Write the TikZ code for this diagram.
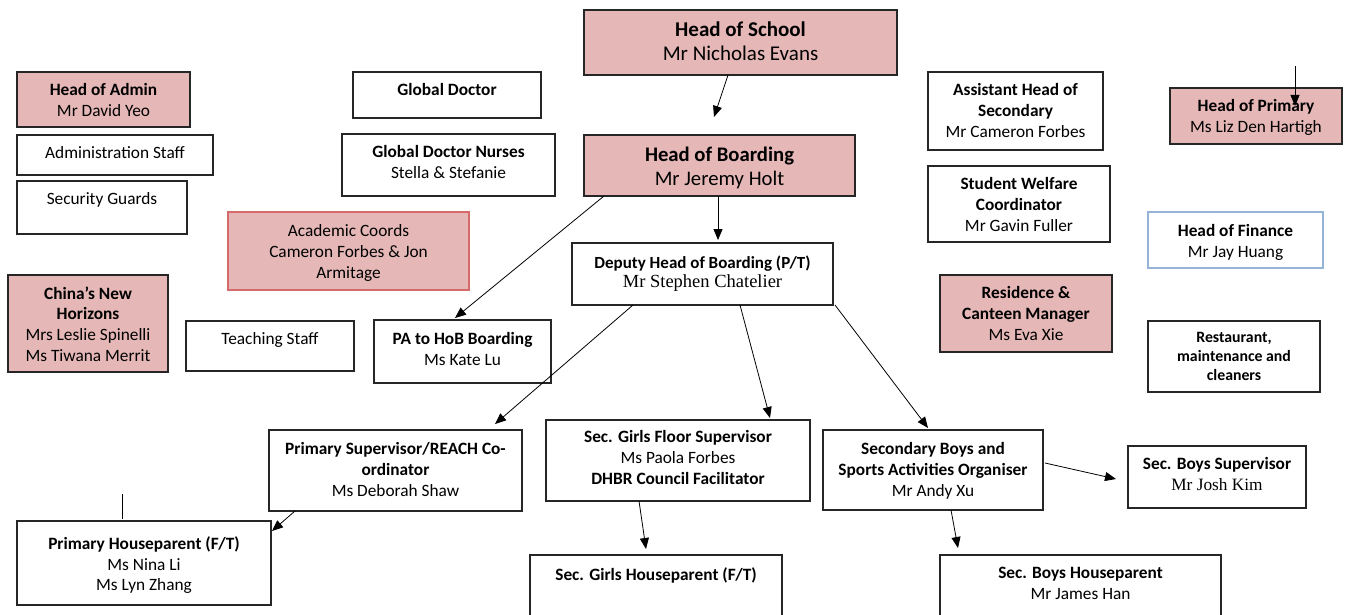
\documentclass[tikz,border=0pt]{standalone}
\usepackage{fontspec}
\setmainfont{Carlito}
\newfontfamily\tmsfont{Liberation Serif}
\usetikzlibrary{arrows.meta}
\definecolor{pinkfill}{HTML}{E5B8B7}
\definecolor{redline}{HTML}{D46A6A}
\definecolor{blueline}{HTML}{95B3D7}
\definecolor{boxline}{HTML}{262626}
\newcommand\bt[4]{\parbox[c][#2pt][t]{#1pt}{\centering\vspace*{#3pt}#4\par}}
\tikzset{
  bx/.style={draw=boxline, line width=1.1pt, inner sep=0pt, outer sep=0pt, anchor=north west,
    font=\fontsize{17.3}{20.8}\selectfont},
  pk/.style={bx, fill=pinkfill},
  arr/.style={line width=0.8pt, -{Triangle[length=11pt,width=9pt]}},
  plain/.style={line width=0.8pt},
}
\begin{document}
\begin{tikzpicture}[x=1pt,y=-1pt]
\useasboundingbox[fill=white] (0,0) rectangle (1346,615);
\clip (0,0) rectangle (1346,615);
% central column
\node[pk] (hos) at (584,10) {\bt{313}{65}{11.5}{\fontsize{21}{24}\selectfont\textbf{Head of School}\\Mr Nicholas Evans}};
\node[pk] (hob) at (584,135) {\bt{271}{61}{11.5}{\fontsize{20.7}{24}\selectfont\textbf{Head of Boarding}\\Mr Jeremy Holt}};
\node[bx] (dep) at (572,243) {\bt{261}{62}{12.5}{\fontsize{17}{19}\selectfont\textbf{Deputy Head of Boarding (P/T)}\\{\tmsfont\fontsize{18.5}{19}\selectfont Mr Stephen Chatelier}}};
\node[bx] (pa) at (374,320) {\bt{177}{63}{12.5}{\textbf{PA to HoB Boarding}\\Ms Kate Lu}};
% left column
\node[pk] (ha) at (17,72) {\bt{173}{55}{11.5}{\textbf{Head of Admin}\\Mr David Yeo}};
\node[bx] (as) at (17,135) {\bt{196}{40}{11.5}{Administration Staff}};
\node[bx] (sg) at (17,181) {\bt{170}{53}{11.5}{Security Guards}};
\node[bx] (gd) at (353,72) {\bt{188}{46}{11.5}{\textbf{Global Doctor}}};
\node[bx] (gdn) at (342,134) {\bt{213}{62}{11.5}{\textbf{Global Doctor Nurses}\\Stella \& Stefanie}};
\node[pk, draw=redline] (ac) at (228,212) {\bt{241}{78}{12.5}{Academic Coords\\Cameron Forbes \& Jon\\Armitage}};
\node[pk] (cnh) at (8,275) {\bt{160}{97}{11.5}{\textbf{China’s New}\\\textbf{Horizons}\\Mrs Leslie Spinelli\\Ms Tiwana Merrit}};
\node[bx] (ts) at (186,321) {\bt{168}{50}{11.5}{Teaching Staff}};
% right columns
\node[bx] (ahs) at (928,72) {\bt{175}{78}{11.5}{\textbf{Assistant Head of}\\\textbf{Secondary}\\Mr Cameron Forbes}};
\node[bx] (swc) at (928,166) {\bt{182}{76}{11.5}{\textbf{Student Welfare}\\\textbf{Coordinator}\\Mr Gavin Fuller}};
\node[pk] (rcm) at (940,275) {\bt{172}{77}{11.5}{\textbf{Residence \&}\\\textbf{Canteen Manager}\\Ms Eva Xie}};
\node[pk] (hop) at (1170,88) {\bt{172}{56}{11.5}{\textbf{Head of Primary}\\Ms Liz Den Hartigh}};
\node[bx, draw=blueline] (hof) at (1148,212) {\bt{175}{56}{12.5}{\textbf{Head of Finance}\\Mr Jay Huang}};
\node[bx] (rmc) at (1148,321) {\bt{172}{71}{11.5}{\fontsize{15.8}{19}\selectfont\textbf{Restaurant,}\\\textbf{maintenance and}\\\textbf{cleaners}}};
% lower rows
\node[bx] (ps) at (269,430) {\bt{253}{81}{12.5}{\textbf{Primary Supervisor/REACH Co-}\\\textbf{ordinator}\\Ms Deborah Shaw}};
\node[bx] (sgf) at (546,420) {\bt{264}{81}{10.5}{\textbf{Sec. Girls Floor Supervisor}\\Ms Paola Forbes\\\textbf{DHBR Council Facilitator}}};
\node[bx] (sbo) at (823,430) {\bt{220}{80}{12.5}{\textbf{Secondary Boys and}\\\textbf{Sports Activities Organiser}\\Mr Andy Xu}};
\node[bx] (sbs) at (1128,446) {\bt{178}{62}{11.5}{\textbf{Sec. Boys Supervisor}\\{\tmsfont Mr Josh Kim}}};
\node[bx] (php) at (17,521) {\bt{254}{84}{15.5}{\textbf{Primary Houseparent (F/T)}\\Ms Nina Li\\Ms Lyn Zhang}};
\node[bx] (sghp) at (530,555) {\bt{252}{75}{12.5}{\textbf{Sec. Girls Houseparent (F/T)}}};
\node[bx] (sbhp) at (940,555) {\bt{281}{75}{12.5}{\textbf{Sec. Boys Houseparent}\\Mr James Han}};
% connectors
\draw[arr] ([xshift=-12.5pt]hos.south) -- ([xshift=-5.5pt,yshift=18pt]hob.north);
\draw[arr] ([xshift=-1.5pt]hob.south) -- ([xshift=15.5pt,yshift=3pt]dep.north);
\draw[arr] ([xshift=-115.5pt]hob.south) -- ([xshift=-7.5pt,yshift=2pt]pa.north);
\draw[arr] ([xshift=-69.5pt]dep.south) -- ([xshift=99.5pt,yshift=6pt]ps.north);
\draw[arr] ([xshift=37.5pt]dep.south) -- ([xshift=92pt,yshift=2pt]sgf.north);
\draw[arr] ([xshift=132.5pt]dep.south) -- ([xshift=-5pt,yshift=2pt]sbo.north);
\draw[arr] ([xshift=-100.5pt]ps.south) -- ([xshift=1pt,yshift=-10pt]php.north east);
\draw[arr] ([xshift=-39pt]sgf.south) -- ([xshift=-10pt,yshift=6pt]sghp.north);
\draw[arr] ([xshift=18pt]sbo.south) -- ([xshift=-122.5pt,yshift=7pt]sbhp.north);
\draw[arr] ([xshift=2pt,yshift=7pt]sbo.east) -- ([xshift=-12pt,yshift=-2pt]sbs.west);
\coordinate (hopin) at (1295,66);
\draw[arr] (hopin) -- ([xshift=39pt,yshift=-18pt]hop.north);
\coordinate (stray) at (122,494);
\draw[plain] (stray) -- ([xshift=-22pt,yshift=2pt]php.north);
\end{tikzpicture}
\end{document}
